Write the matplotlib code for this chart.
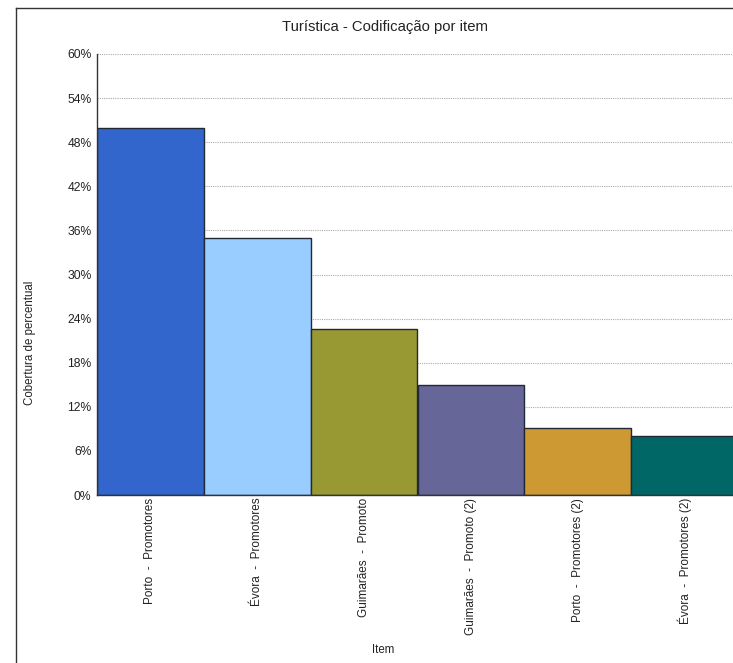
import matplotlib
matplotlib.use("Agg")
import matplotlib.pyplot as plt
from matplotlib.lines import Line2D
from matplotlib.ticker import FuncFormatter

plt.rcParams['font.family'] = ['Liberation Sans', 'DejaVu Sans']

categories = ["Porto  -  Promotores", "Évora  -  Promotores", "Guimarães  -  Promoto",
              "Guimarães  -  Promoto (2)", "Porto  -  Promotores (2)", "Évora  -  Promotores (2)"]
values = [50.0, 35.0, 22.6, 15.0, 9.1, 8.0]
colors = ["#3366CC", "#99CCFF", "#999933", "#666699", "#CC9933", "#006666"]
yticks = [0, 6, 12, 18, 24, 30, 36, 42, 48, 54, 60]

W, H = 733, 663
fig = plt.figure(figsize=(W / 100, H / 100), dpi=100)
fig.patch.set_facecolor("white")

left, right, top, bottom = 97, 738, 54, 495
ax = fig.add_axes([left / W, (H - bottom) / H, (right - left) / W, (bottom - top) / H])

x = list(range(len(categories)))
ax.bar(x, values, width=1.0, color=colors, edgecolor="#1f2a36", linewidth=1.0, zorder=3)
ax.set_xlim(-0.5, len(categories) - 0.5)
ax.set_ylim(0, 60)
ax.set_yticks(yticks)
ax.yaxis.set_major_formatter(FuncFormatter(lambda v, p: f"{int(v)}%"))
ax.set_xticks(x)
ax.set_xticklabels(categories, rotation=90, fontsize=8.5, color="#222222", va="top", ha="center")
ax.tick_params(axis="y", length=0, labelsize=8.7, colors="#222222", pad=4)
ax.tick_params(axis="x", length=0, colors="#222222", pad=2)

ax.grid(axis="y", linestyle=(0, (1, 1)), color="#aaaaaa", linewidth=0.8, zorder=0)
for s in ["top", "right"]:
    ax.spines[s].set_visible(False)
for s in ["left", "bottom"]:
    ax.spines[s].set_color("#333333")
    ax.spines[s].set_linewidth(1.0)
    ax.spines[s].set_zorder(4)

fig.text(385 / W, 1 - 27 / H, "Turística - Codificação por item", ha="center", va="center",
         fontsize=10.7, color="#222222")
fig.text(30 / W, 1 - 343 / H, "Cobertura de percentual", ha="center", va="center",
         rotation=90, fontsize=8.3, color="#222222")
fig.text(383 / W, 1 - 650 / H, "Item", ha="center", va="center", fontsize=8.3, color="#222222")

# outer frame
fig.add_artist(Line2D([16 / W, 16 / W], [0, 1 - 8 / H], transform=fig.transFigure,
                      color="#333333", linewidth=1.0))
fig.add_artist(Line2D([16 / W, 1], [1 - 8 / H, 1 - 8 / H], transform=fig.transFigure,
                      color="#333333", linewidth=1.0))

fig.savefig("out.png", dpi=100, facecolor="white")
